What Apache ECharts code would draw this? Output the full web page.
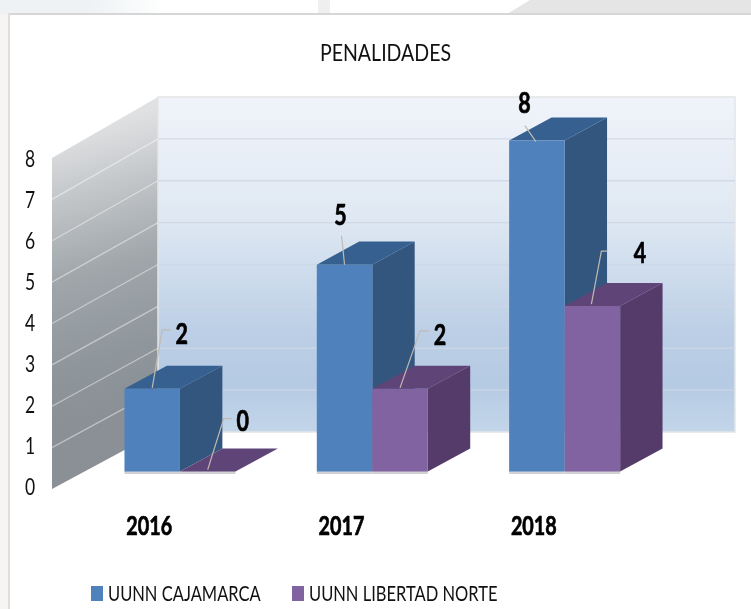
<!DOCTYPE html>
<html><head><meta charset="utf-8">
<script src="https://cdn.jsdelivr.net/npm/echarts@6/dist/echarts.min.js"></script>
<style>html,body{margin:0;padding:0;background:#fff}#c{width:751px;height:609px}</style>
</head><body><div id="c"></div>
<script>
const categories = ['2016', '2017', '2018'];
const cajamarca = [2, 5, 8];
const libertad = [0, 2, 4];
const yTicks = [0, 1, 2, 3, 4, 5, 6, 7, 8];
const seriesNames = ['UUNN CAJAMARCA', 'UUNN LIBERTAD NORTE'];
const chartTitle = 'PENALIDADES';

const FONT = 'Lato,"Open Sans",sans-serif';
const DX = 106, DY = 58;
const D0 = 0.3, D1 = 0.7;
const BAR_W = 55.5;
const colors = [
  {front: '#4f81bd', top: '#36608f', side: '#33567f'},
  {front: '#8163a2', top: '#5f4478', side: '#553b69'}
];
// Leader polylines and label offsets, relative to each bar's front-top centre: [start, elbow, end, labelCentre]
const leaders = [
  [[[0, -1], [10, -59], [18, -59], [29.5, -54]],
   [[0, 0], [-3, -29], [-3, -29], [-4, -49]],
   [[-1, 1], [-12, -15], [-12, -15], [-12.5, -37]]],
  [[[0, -2], [16, -53], [24, -53], [35, -50]],
   [[0, -1], [20, -58], [29, -58], [40, -53]],
   [[-1, -2], [9, -55], [15, -55], [47.5, -52]]]
];

const chart = echarts.init(document.getElementById('c'), null, {renderer: 'canvas'});

function pt(api, cat, v, d) {
  const p = api.coord([cat, v]);
  return [p[0] + d * DX, p[1] - d * DY];
}

function squeezed(x, y, text, font, fill, sx, heavy) {
  return {type: 'text', x, y, scaleX: sx, style: {x: 0, y: 0, text, font, fill,
    stroke: heavy ? fill : null, lineWidth: heavy ? 0.7 : 0,
    align: 'center', verticalAlign: 'middle'}};
}

function renderWalls(params, api) {
  const v = api.value(0);
  const cs = params.coordSys;
  const x0 = cs.x, x1 = cs.x + cs.width;
  const y0 = api.coord([0, 0])[1], y8 = api.coord([0, 8])[1];
  const sideFill = {type: 'linear', global: true, x: 75, y: 130, x2: 150, y2: 400, colorStops: [
    {offset: 0, color: '#e0e1e3'}, {offset: .5, color: '#a0a6aa'}, {offset: .8, color: '#8f979c'}, {offset: 1, color: '#8a9095'}]};
  const backFill = {type: 'linear', global: true, x: 0, y: y8 - 61, x2: 0, y2: y0 - 57, colorStops: [
    {offset: 0, color: '#f0f3fa'}, {offset: .35, color: '#e0e9f3'}, {offset: .7, color: '#bccfe6'},
    {offset: .85, color: '#b5cae3'}, {offset: 1, color: '#c2d5e9'}]};
  const children = [];
  if (params.dataIndex === 0) {
    children.push({type: 'polygon', shape: {points: [[x0, y0], [x0 + DX, y0 - 57], [x0 + DX, y8 - 61], [x0, y8]]},
      style: {fill: sideFill}});
    children.push({type: 'rect', shape: {x: x0 + DX, y: y8 - 61, width: x1 - x0, height: (y0 - 57) - (y8 - 61)},
      style: {fill: backFill, stroke: '#e4e5e8', lineWidth: 1.5}});
  }
  if (v > 0 && v < 8) {
    const y = api.coord([0, v])[1];
    const yb = y - 57 - v * 0.5;
    children.push({type: 'line', shape: {x1: x0, y1: y, x2: x0 + DX, y2: yb},
      style: {stroke: 'rgba(255,255,255,.45)', lineWidth: 1.2}});
    children.push({type: 'line', shape: {x1: x0 + DX, y1: yb, x2: x1 + DX, y2: yb},
      style: {stroke: 'rgba(205,215,230,.85)', lineWidth: 1.4}});
  }
  children.push(squeezed(30, api.coord([0, v])[1] - 1 + v * 0.375, String(v), '23px ' + FONT, '#111', 0.76));
  return {type: 'group', children};
}

function renderBar(idx) {
  return function (params, api) {
    const cat = api.value(0), v = api.value(1);
    const c = colors[idx];
    const offs = idx === 0 ? -BAR_W : 0;
    const sh = (p) => [p[0] + offs, p[1]];
    const bw = BAR_W;
    const fBL = sh(pt(api, cat, 0, D0)), fTL = sh(pt(api, cat, v, D0));
    const fBR = [fBL[0] + bw, fBL[1]], fTR = [fTL[0] + bw, fTL[1]];
    const bBR = sh(pt(api, cat, 0, D1)); bBR[0] += bw;
    const bTR = sh(pt(api, cat, v, D1)); bTR[0] += bw;
    const bTL = [bTR[0] - bw, bTR[1]];
    const children = [
      {type: 'line', shape: {x1: fBL[0], y1: fBL[1] + 1, x2: fBR[0], y2: fBR[1] + 1}, style: {stroke: '#d2d2d6', lineWidth: 3}},
      {type: 'polygon', shape: {points: [fBR, bBR, bTR, fTR]}, style: {fill: c.side}},
      {type: 'polygon', shape: {points: [fTL, fTR, bTR, bTL]}, style: {fill: c.top}},
      {type: 'rect', shape: {x: fTL[0], y: fTL[1], width: bw, height: fBL[1] - fTL[1]}, style: {fill: c.front}}
    ];
    if (idx === 0) {
      children.push(squeezed(api.coord([cat, 0])[0] + 1, api.coord([cat, 0])[1] + 38, categories[cat], 'bold 26px ' + FONT, '#000', 0.76, true));
    }
    return {type: 'group', children};
  };
}

function renderLabel(idx) {
  return function (params, api) {
    const cat = api.value(0), v = api.value(1);
    const p = pt(api, cat, v, D0);
    const ax = p[0] + (idx === 0 ? -BAR_W / 2 : BAR_W / 2), ay = p[1];
    const L = leaders[idx][cat];
    const pts = L.slice(0, 3).map(q => [ax + q[0], ay + q[1]]);
    return {type: 'group', children: [
      {type: 'polyline', shape: {points: pts}, style: {fill: 'none', stroke: '#bfbab2', lineWidth: 1.2}},
      squeezed(ax + L[3][0], ay + L[3][1], String(v), 'bold 29px ' + FONT, '#000', 0.74, true)
    ]};
  };
}

const catIdx = categories.map((_, i) => i);
const fade = (x, x2, c) => ({type: 'linear', global: true, x, y: 0, x2, y2: 0, colorStops: [{offset: 0, color: c}, {offset: 1, color: '#ffffff'}]});

chart.setOption({
  animation: false,
  backgroundColor: '#ffffff',
  graphic: {elements: [
    {type: 'rect', silent: true, z: -10, shape: {x: 0, y: 0, width: 165, height: 14}, style: {fill: fade(90, 165, '#eef2f4')}},
    {type: 'rect', silent: true, z: -10, shape: {x: 318, y: 0, width: 12, height: 14}, style: {fill: '#efefef'}},
    {type: 'polygon', silent: true, z: -10, shape: {points: [[507, 14], [530, 0], [751, 0], [751, 14]]}, style: {fill: '#e5e5e5'}},
    {type: 'rect', silent: true, z: -10, shape: {x: 0, y: 14, width: 8, height: 595}, style: {fill: '#f6f5f4'}},
    {type: 'rect', silent: true, z: -9, shape: {x: 8, y: 13, width: 743, height: 2}, style: {fill: '#d6d6d6'}},
    {type: 'rect', silent: true, z: -9, shape: {x: 8, y: 13, width: 2, height: 596}, style: {fill: '#dedede'}},
    {type: 'text', silent: true, x: 385.5, y: 54, scaleX: 0.85, style: {x: 0, y: 0, text: chartTitle, font: '23px ' + FONT, fill: '#111', align: 'center', verticalAlign: 'middle'}},
    {type: 'rect', silent: true, shape: {x: 91, y: 586, width: 12, height: 15}, style: {fill: colors[0].front}},
    {type: 'text', silent: true, x: 108, y: 594, scaleX: 0.75, style: {x: 0, y: 0, text: seriesNames[0], font: '22px ' + FONT, fill: '#111', verticalAlign: 'middle'}},
    {type: 'rect', silent: true, shape: {x: 292, y: 586, width: 12, height: 15}, style: {fill: colors[1].front}},
    {type: 'text', silent: true, x: 309, y: 594, scaleX: 0.75, style: {x: 0, y: 0, text: seriesNames[1], font: '22px ' + FONT, fill: '#111', verticalAlign: 'middle'}}
  ]},
  grid: {left: 52, width: 577, top: 158, height: 331},
  xAxis: {type: 'category', data: categories, axisLine: {show: false}, axisTick: {show: false}, axisLabel: {show: false}},
  yAxis: {type: 'value', min: 0, max: 8, interval: 1, splitLine: {show: false}, axisLine: {show: false}, axisTick: {show: false}, axisLabel: {show: false}},
  series: [
    {type: 'custom', coordinateSystem: 'cartesian2d', clip: false, z: 1, silent: true,
      renderItem: renderWalls, data: yTicks.map(v => [v]), encode: {x: -1, y: -1}},
    {type: 'custom', name: seriesNames[0], clip: false, z: 3, silent: true, renderItem: renderBar(0),
      data: catIdx.map(i => [i, cajamarca[i]]), encode: {x: 0, y: 1}},
    {type: 'custom', name: seriesNames[1], clip: false, z: 4, silent: true, renderItem: renderBar(1),
      data: catIdx.map(i => [i, libertad[i]]), encode: {x: 0, y: 1}},
    {type: 'custom', clip: false, z: 6, silent: true, renderItem: renderLabel(0),
      data: catIdx.map(i => [i, cajamarca[i]]), encode: {x: 0, y: 1}},
    {type: 'custom', clip: false, z: 6, silent: true, renderItem: renderLabel(1),
      data: catIdx.map(i => [i, libertad[i]]), encode: {x: 0, y: 1}}
  ]
});
</script></body></html>
